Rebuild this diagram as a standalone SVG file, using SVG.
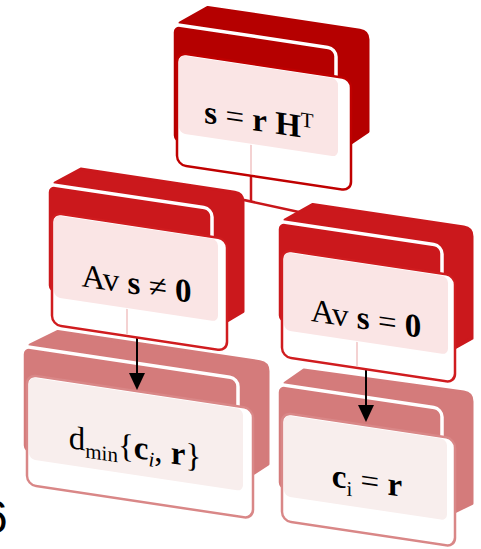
<svg xmlns="http://www.w3.org/2000/svg" width="481" height="549" viewBox="0 0 481 549">
<style>
.t1 .box,.t1 .mid{fill:#b50000}
.t2 .box,.t2 .mid{fill:#cb181c}
.t3 .box,.t3 .mid{fill:#d47b7b}
.box{stroke-linejoin:round;stroke-width:3}
.t1 .box{stroke:#b50000}
.t2 .box{stroke:#cb181c}
.t3 .box{stroke:#d47b7b}
.mid{stroke:#fff;stroke-width:3.5}
.front{fill:#fff;stroke-width:2.5}
.t1 .front{stroke:#c00000}
.t2 .front{stroke:#d01c1f}
.t3 .front{stroke:#d98787}
.t1 .pink,.t2 .pink{fill:#fae5e5}
.t3 .pink{fill:#f8eeed}
.faint{stroke:#f4d2d2;stroke-width:2}
.lbl{font-family:"Liberation Serif","Times New Roman",serif;font-size:33px;fill:#000;text-anchor:middle}
.b{font-weight:bold}
.conn{stroke:#c8161a;stroke-width:2.5;fill:none}
.arrow{stroke:#000;stroke-width:2}
</style>

<g id="node-dmin" class="t3" transform="translate(22,346) skewY(8.53)">
  <path class="box" d="M36,-20 L238,-20 Q246,-20 246,-12 L246,81 L231,93 L8,93 L8,-2 Z"/>
  <rect class="mid" x="0" y="0" width="216" height="107" rx="8"/>
  <rect class="front" x="5" y="28" width="226" height="110" rx="9"/>
  <rect class="pink" x="7" y="30" width="214" height="82" rx="6"/>
  <text class="lbl" x="113" y="95" font-size="32">d<tspan font-size="21" dy="7">min</tspan><tspan dy="-7">{</tspan><tspan class="b">c</tspan><tspan font-size="21" font-style="italic" dy="6">i</tspan><tspan dy="-6">, </tspan><tspan class="b">r</tspan>}</text>
</g>

<g id="node-ci" class="t3" transform="translate(277,384) skewY(8.53)">
  <path class="box" d="M27,-18 L187,-20 Q195,-20 195,-12 L195,90 L178,101 L8,101 L8,-2 Z"/>
  <rect class="mid" x="0" y="0" width="165" height="106" rx="8"/>
  <rect class="front" x="5" y="28" width="173" height="108" rx="9"/>
  <rect class="pink" x="7" y="30" width="163" height="81" rx="6"/>
  <text class="lbl" x="90" y="94"><tspan class="b">c</tspan><tspan font-size="21" dy="7">i</tspan><tspan dy="-7"> = </tspan><tspan class="b">r</tspan></text>
</g>

<g id="connectors">
  <line class="conn" x1="251" y1="174" x2="251" y2="202"/>
  <line class="conn" x1="212" y1="193" x2="322" y2="217"/>
  <line class="arrow" x1="137" y1="330" x2="137" y2="375"/>
  <polygon points="129,373 145,373 137,390" fill="#000"/>
  <line class="arrow" x1="366" y1="366" x2="366" y2="407"/>
  <polygon points="358,405 374,405 366,422" fill="#000"/>
</g>

<g id="node-nonzero" class="t2" transform="translate(47,184) skewY(8.53)">
  <path class="box" d="M34,-20 L188,-20 Q196,-20 196,-12 L196,98 L180,110 L8,110 L8,-2 Z"/>
  <rect class="mid" x="0" y="0" width="165" height="109" rx="8"/>
  <rect class="front" x="5" y="28" width="175" height="112" rx="9"/>
  <rect class="pink" x="7" y="30" width="164" height="82" rx="6"/>
  <line class="faint" x1="80" y1="113" x2="80" y2="138"/>
  <text class="lbl" x="89.5" y="97">Av <tspan class="b">s</tspan> ≠ <tspan class="b">0</tspan></text>
</g>

<g id="node-zero" class="t2" transform="translate(277,221) skewY(8.53)">
  <path class="box" d="M36,-22 L187,-22 Q195,-22 195,-14 L195,88 L178,100 L8,100 L8,-2 Z"/>
  <rect class="mid" x="0" y="0" width="165" height="102" rx="8"/>
  <rect class="front" x="5" y="28" width="173" height="107" rx="9"/>
  <rect class="pink" x="7" y="30" width="164" height="78" rx="6"/>
  <line class="faint" x1="80" y1="109" x2="80" y2="133"/>
  <text class="lbl" x="89" y="95">Av <tspan class="b">s</tspan> = <tspan class="b">0</tspan></text>
</g>

<g id="node-syndrome" class="t1" transform="translate(172,24) skewY(8.53)">
  <path class="box" d="M36,-22 L188,-22 Q196,-22 196,-14 L196,78 L179,92 L8,92 L8,-2 Z"/>
  <rect class="mid" x="0" y="0" width="164" height="119" rx="8"/>
  <rect class="front" x="5" y="28" width="174" height="112" rx="9"/>
  <rect class="pink" x="7" y="30" width="159" height="78" rx="6"/>
  <line class="faint" x1="79" y1="109" x2="79" y2="138"/>
  <text class="lbl" x="87" y="94" font-size="31"><tspan class="b">s</tspan> = <tspan class="b">r</tspan> <tspan class="b">H</tspan><tspan font-size="21" dy="-11">T</tspan></text>
</g>

<text x="-18" y="533" font-family="Liberation Sans, Arial, sans-serif" font-size="46" fill="#000">6</text>
</svg>
